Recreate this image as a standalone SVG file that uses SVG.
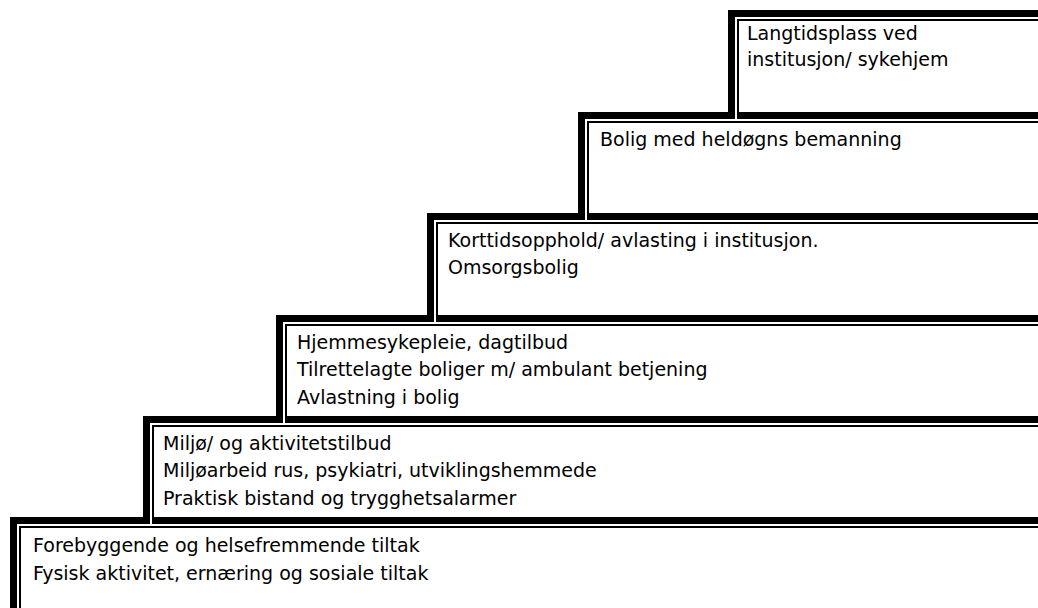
<svg xmlns="http://www.w3.org/2000/svg" width="1038" height="608" viewBox="0 0 1038 608">
<style>
.k{fill:#000}
.w{fill:#fff}
.t{font-family:"DejaVu Sans","Liberation Sans",sans-serif;font-size:19px;fill:#000}
</style>
<rect width="1038" height="608" fill="#fff"/>
<g id="step1">
<rect class="k" x="10" y="517" width="1028" height="7"/>
<rect class="k" x="10" y="517" width="7" height="91"/>
<rect class="k" x="19" y="526" width="1019" height="2"/>
<rect class="k" x="19" y="526" width="2" height="82"/>
<text class="t" x="33" y="552">Forebyggende og helsefremmende tiltak</text>
<text class="t" x="33" y="580">Fysisk aktivitet, ernæring og sosiale tiltak</text>
</g>
<g id="step2">
<rect class="k" x="143" y="416" width="895" height="7"/>
<rect class="k" x="143" y="416" width="7" height="108"/>
<rect class="w" x="150" y="425" width="2" height="99"/>
<rect class="k" x="152" y="425" width="886" height="2"/>
<rect class="k" x="152" y="425" width="2" height="99"/>
<text class="t" x="163" y="450">Miljø/ og aktivitetstilbud</text>
<text class="t" x="163" y="477">Miljøarbeid rus, psykiatri, utviklingshemmede</text>
<text class="t" x="163" y="505">Praktisk bistand og trygghetsalarmer</text>
</g>
<g id="step3">
<rect class="k" x="276" y="315" width="762" height="7"/>
<rect class="k" x="276" y="315" width="7" height="108"/>
<rect class="w" x="283" y="324" width="2" height="99"/>
<rect class="k" x="285" y="324" width="753" height="2"/>
<rect class="k" x="285" y="324" width="2" height="99"/>
<text class="t" x="297" y="349">Hjemmesykepleie, dagtilbud</text>
<text class="t" x="297" y="376">Tilrettelagte boliger m/ ambulant betjening</text>
<text class="t" x="297" y="404">Avlastning i bolig</text>
</g>
<g id="step4">
<rect class="k" x="427" y="213" width="611" height="7"/>
<rect class="k" x="427" y="213" width="7" height="109"/>
<rect class="w" x="434" y="222" width="2" height="100"/>
<rect class="k" x="436" y="222" width="602" height="2"/>
<rect class="k" x="436" y="222" width="2" height="100"/>
<text class="t" x="448" y="247">Korttidsopphold/ avlasting i institusjon.</text>
<text class="t" x="448" y="274">Omsorgsbolig</text>
</g>
<g id="step5">
<rect class="k" x="578" y="112" width="460" height="7"/>
<rect class="k" x="578" y="112" width="7" height="108"/>
<rect class="w" x="585" y="121" width="2" height="99"/>
<rect class="k" x="587" y="121" width="451" height="2"/>
<rect class="k" x="587" y="121" width="2" height="99"/>
<text class="t" x="600" y="146">Bolig med heldøgns bemanning</text>
</g>
<g id="step6">
<rect class="k" x="728" y="10" width="310" height="7"/>
<rect class="k" x="728" y="10" width="7" height="109"/>
<rect class="w" x="735" y="19" width="2" height="100"/>
<rect class="k" x="737" y="19" width="301" height="2"/>
<rect class="k" x="737" y="19" width="2" height="100"/>
<text class="t" x="747" y="40">Langtidsplass ved</text>
<text class="t" x="747" y="66">institusjon/ sykehjem</text>
</g>
</svg>
